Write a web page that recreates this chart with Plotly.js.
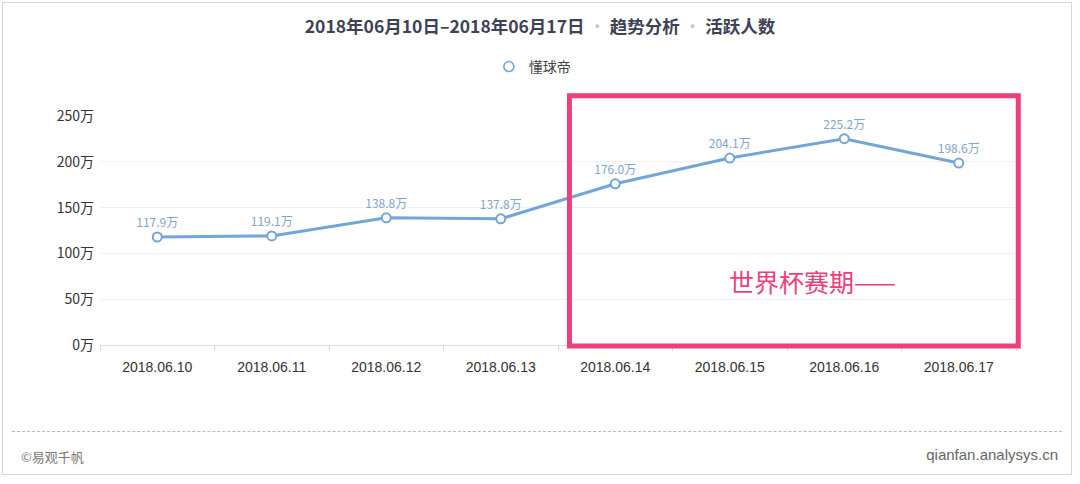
<!DOCTYPE html>
<html>
<head>
<meta charset="utf-8">
<script src="https://cdn.plot.ly/plotly-3.0.1.min.js"></script>
<style>
  html, body { margin: 0; padding: 0; background: #fff; }
  #wrap { position: relative; width: 1080px; height: 484px; overflow: hidden; }
  #frame { position: absolute; left: 2px; top: 2px; width: 1070px; height: 473px; border: 1px solid #d6d6d6; box-sizing: border-box; pointer-events: none; }
  #graph { position: absolute; left: 0; top: 0; width: 1080px; height: 484px; }
  #rule { position: absolute; left: 12px; top: 431px; width: 1050px; border-top: 1px dashed #b9b9b9; }
  .foot { position: absolute; top: 447px; font-family: "Noto Sans CJK SC", "Noto Sans", sans-serif; font-size: 13px; color: #777; }
  #foot-left { left: 21px; }
  #foot-right { right: 22px; top: 446px; font-size: 15px; font-family: "Liberation Sans", Arial, sans-serif; color: #666; }
</style>
</head>
<body>
<div id="wrap">
  <div id="graph"></div>
  <div id="frame"></div>
  <div id="rule"></div>
  <div class="foot" id="foot-left">©易观千帆</div>
  <div class="foot" id="foot-right">qianfan.analysys.cn</div>
</div>
<script>
const dates = ['2018.06.10', '2018.06.11', '2018.06.12', '2018.06.13', '2018.06.14', '2018.06.15', '2018.06.16', '2018.06.17'];
const activeUsers = [117.9, 119.1, 138.8, 137.8, 176.0, 204.1, 225.2, 198.6];
const yTicks = [0, 50, 100, 150, 200, 250];
const seriesName = '懂球帝';
const periodLabel = '世界杯赛期——';

const lineColor = '#72a6d8';
const pink = '#ee3f7a';
const cjk = '"Noto Sans CJK SC", "Noto Sans", sans-serif';
const yMax = 250;

// highlight box around the World Cup days, in category / value units
const boxX = [3.6, 7.52];
const boxY = [-1, 272];

// the box sticks out of the plot area, so it is drawn in paper units
const toPaperX = (x) => (x + 0.5) / dates.length;
const toPaperY = (y) => y / yMax;

const mainTrace = {
  type: 'scatter',
  mode: 'lines+markers+text',
  name: seriesName,
  x: dates,
  y: activeUsers,
  text: activeUsers.map((v) => v.toFixed(1) + '万'),
  textposition: 'top center',
  textfont: { family: cjk, size: 12, color: '#7fa6cc' },
  line: { color: lineColor, width: 3 },
  marker: { size: 9, color: '#ffffff', line: { color: lineColor, width: 2 } },
  cliponaxis: false,
  showlegend: false,
  hoverinfo: 'skip'
};

// legend shows only the hollow circle
const legendTrace = {
  type: 'scatter',
  mode: 'markers',
  name: seriesName,
  x: [dates[0]],
  y: [null],
  marker: { size: 10, color: '#ffffff', line: { color: lineColor, width: 1.5 } },
  hoverinfo: 'skip'
};

const dot = '<span style="color:#c8c8c8"> · </span>';

const layout = {
  width: 1080,
  height: 484,
  paper_bgcolor: 'rgba(0,0,0,0)',
  plot_bgcolor: 'rgba(0,0,0,0)',
  margin: { l: 100, r: 64, t: 116, b: 139 },
  font: { family: cjk, color: '#333' },
  title: {
    text: '<b>2018年06月10日–2018年06月17日</b>' + dot + '<b>趋势分析</b>' + dot + '<b>活跃人数</b>',
    font: { family: cjk, size: 17.5, color: '#3d4255' },
    x: 0.5,
    xanchor: 'center',
    y: 0.944,
    yanchor: 'middle'
  },
  showlegend: true,
  legend: {
    orientation: 'h',
    x: 0.472,
    xanchor: 'center',
    y: 1.214,
    yanchor: 'middle',
    itemwidth: 30,
    font: { family: cjk, size: 14, color: '#444' }
  },
  xaxis: {
    type: 'category',
    range: [-0.5, dates.length - 0.5],
    tickson: 'boundaries',
    ticks: 'outside',
    ticklen: 5,
    tickcolor: '#dcdcdc',
    showline: true,
    linecolor: '#dcdcdc',
    showgrid: false,
    ticklabelstandoff: 9,
    tickfont: { family: '"Liberation Sans", Arial, sans-serif', size: 14, color: '#333' },
    fixedrange: true
  },
  yaxis: {
    range: [0, yMax],
    tickvals: yTicks,
    ticktext: yTicks.map((v) => v + '万'),
    showgrid: true,
    gridcolor: '#f1f1f1',
    zeroline: false,
    showline: false,
    ticks: '',
    ticklabelstandoff: 5,
    tickfont: { family: cjk, size: 14, color: '#333' },
    fixedrange: true
  },
  shapes: [
    {
      type: 'rect',
      xref: 'paper',
      yref: 'paper',
      x0: toPaperX(boxX[0]),
      x1: toPaperX(boxX[1]),
      y0: toPaperY(boxY[0]),
      y1: toPaperY(boxY[1]),
      line: { color: pink, width: 5 },
      fillcolor: 'rgba(0,0,0,0)'
    }
  ],
  annotations: [
    {
      xref: 'x',
      yref: 'y',
      x: 5.72,
      y: 70,
      text: periodLabel,
      showarrow: false,
      font: { family: cjk, size: 25, color: pink }
    }
  ]
};

Plotly.newPlot('graph', [mainTrace, legendTrace], layout, { displayModeBar: false, staticPlot: true });
</script>
</body>
</html>
